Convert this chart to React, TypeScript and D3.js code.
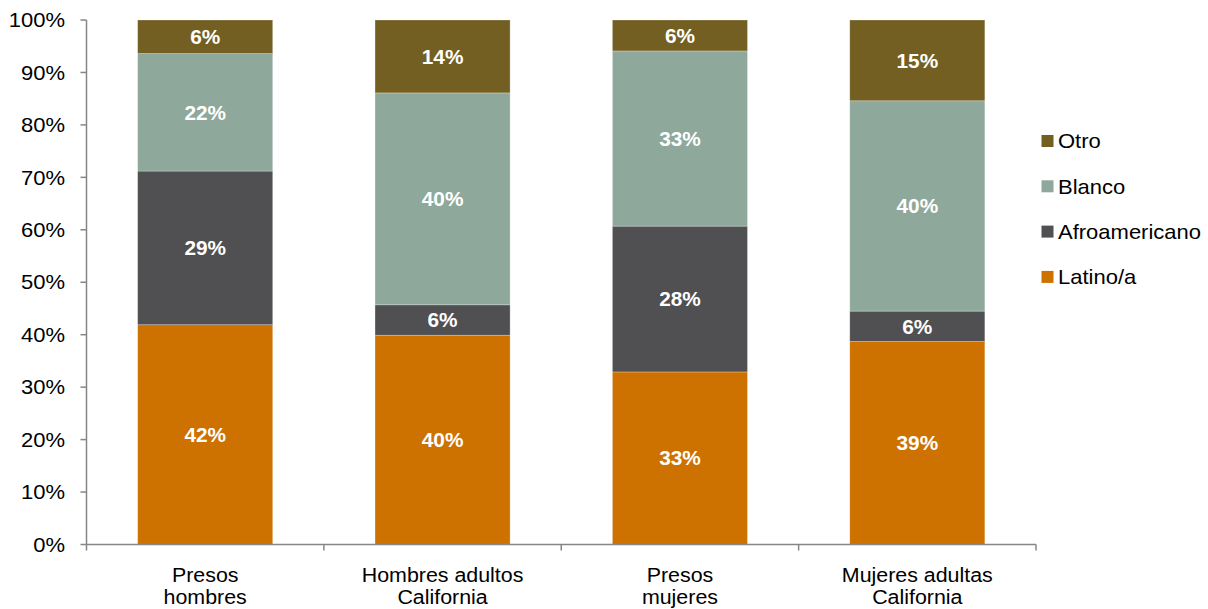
import React from "react";
import * as d3 from "d3";

const categories = [
  ["Presos", "hombres"],
  ["Hombres adultos", "California"],
  ["Presos", "mujeres"],
  ["Mujeres adultas", "California"],
];
const seriesNames = ["Latino/a", "Afroamericano", "Blanco", "Otro"];
const latino = [41.9, 39.9, 32.9, 38.7];
const afro = [29.3, 5.8, 27.8, 5.8];
const blanco = [22.4, 40.4, 33.4, 40.1];
const otro = [6.4, 13.9, 5.9, 15.4];
const yTicks = [0, 10, 20, 30, 40, 50, 60, 70, 80, 90, 100];
const colors = ["#CD7200", "#505052", "#8EA99B", "#735F22"];

const W = 1208;
const H = 609;
const left = 86.5;
const right = 1036;
const top = 20;
const bottom = 544.5;
const font = "'Liberation Sans', Arial, sans-serif";

function T(props: {
  x: number;
  y: number;
  anchor?: "start" | "middle" | "end";
  sx?: number;
  size?: number;
  bold?: boolean;
  fill?: string;
  dy?: string;
  children: React.ReactNode;
}) {
  const { x, y, anchor = "start", sx = 1.1, size = 20, bold, fill = "#000", dy, children } = props;
  return (
    <text
      transform={`translate(${x},${y}) scale(${sx},1)`}
      textAnchor={anchor}
      fontSize={size}
      fontFamily={font}
      fontWeight={bold ? "bold" : "normal"}
      fill={fill}
      dy={dy}
    >
      {children}
    </text>
  );
}

export default function App() {
  const seriesData = [latino, afro, blanco, otro];
  const rows = categories.map((c, i) => {
    const r: any = { key: i };
    seriesNames.forEach((s, j) => (r[s] = seriesData[j][i]));
    return r;
  });
  const stack = d3.stack<any>().keys(seriesNames)(rows);
  const x = d3
    .scaleBand<number>()
    .domain(categories.map((_, i) => i))
    .range([left, right])
    .paddingInner(0.431)
    .paddingOuter(0.2155);
  const y = d3.scaleLinear().domain([0, 100]).range([bottom, top]);
  const step = (right - left) / categories.length;
  const fmt = (v: number) => `${Math.round(v)}%`;

  return (
    <svg width={W} height={H} style={{ position: "absolute", left: 0, top: 0 }}>
      <rect width={W} height={H} fill="#fff" />
      {stack.map((layer, j) => (
        <g key={layer.key}>
          {layer.map((d, i) => {
            const y0 = y(d[1]);
            const y1 = y(d[0]);
            const bx = x(i)!;
            return (
              <g key={i}>
                <rect
                  x={bx}
                  y={y0}
                  width={x.bandwidth()}
                  height={y1 - y0}
                  fill={colors[j]}
                  stroke="#ffffff"
                  strokeOpacity={0.35}
                  strokeWidth={0.75}
                />
                <T
                  x={bx + x.bandwidth() / 2}
                  y={(y0 + y1) / 2}
                  dy="0.36em"
                  anchor="middle"
                  fill="#fff"
                  bold
                  sx={1.04}
                >
                  {fmt(d[1] - d[0])}
                </T>
              </g>
            );
          })}
        </g>
      ))}
      {/* Y axis */}
      <line x1={left} x2={left} y1={top} y2={bottom} stroke="#868686" strokeWidth={1.5} />
      {yTicks.map((t) => (
        <g key={t}>
          <line x1={left - 6} x2={left} y1={y(t)} y2={y(t)} stroke="#868686" strokeWidth={1.5} />
          <T x={65} y={y(t)} dy="0.36em" anchor="end">
            {t}%
          </T>
        </g>
      ))}
      {/* X axis */}
      <line x1={left} x2={right} y1={bottom} y2={bottom} stroke="#868686" strokeWidth={1.5} />
      {d3.range(categories.length + 1).map((i) => (
        <line
          key={i}
          x1={left + i * step}
          x2={left + i * step}
          y1={bottom}
          y2={bottom + 6}
          stroke="#868686"
          strokeWidth={1.5}
        />
      ))}
      {categories.map((c, i) => (
        <g key={i}>
          <T x={x(i)! + x.bandwidth() / 2} y={581.5} anchor="middle" sx={1.07}>
            {c[0]}
          </T>
          <T x={x(i)! + x.bandwidth() / 2} y={603.5} anchor="middle" sx={1.07}>
            {c[1]}
          </T>
        </g>
      ))}
      {/* Legend */}
      {[...seriesNames].reverse().map((s, k) => {
        const j = seriesNames.length - 1 - k;
        const cy = 141 + k * 45.3;
        return (
          <g key={s}>
            <rect x={1041.5} y={cy - 6} width={12} height={12} fill={colors[j]} />
            <T x={1058} y={cy} dy="0.36em">
              {s}
            </T>
          </g>
        );
      })}
    </svg>
  );
}
